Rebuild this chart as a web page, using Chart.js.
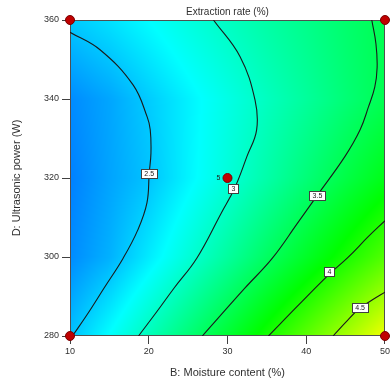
<!DOCTYPE html>
<html>
<head>
<meta charset="utf-8">
<script src="https://cdn.jsdelivr.net/npm/chart.js@4/dist/chart.umd.min.js"></script>
<style>
  html, body { margin: 0; padding: 0; background: #ffffff; }
  #wrap { width: 392px; height: 385px; }
</style>
</head>
<body>
<div id="wrap"><canvas id="c"></canvas></div>
<script>
// Response surface: extraction rate (%) over moisture content (B) and ultrasonic power (D)
const moisture = [10, 15, 20, 25, 30, 35, 40, 45, 50];
const power = [280, 300, 320, 340, 360];
const rateAt280 = [2.49, 2.78, 3.08, 3.38, 3.68, 3.99, 4.29, 4.60, 4.92];
const rateAt300 = [2.25, 2.42, 2.68, 2.94, 3.20, 3.47, 3.73, 3.99, 4.25];
const rateAt320 = [2.20, 2.36, 2.50, 2.72, 2.93, 3.15, 3.37, 3.59, 3.80];
const rateAt340 = [2.25, 2.37, 2.54, 2.71, 2.88, 3.05, 3.21, 3.38, 3.54];
const rateAt360 = [2.53, 2.64, 2.77, 2.91, 3.04, 3.17, 3.29, 3.42, 3.54];
const rateRows = [rateAt280, rateAt300, rateAt320, rateAt340, rateAt360];

// Contour levels and their traced paths [moisture, power]
const contourLevels = ['2.5', '3', '3.5', '4', '4.5'];
const contour25 = [[10, 356.9], [13.85, 352.4], [18.03, 343.5], [19.81, 335.4], [20.19, 332.2], [20.28, 326.3],
                   [20.06, 321.3], [19.77, 313.7], [18.6, 306.8], [16.75, 299.7], [14.35, 292.2], [12.14, 285.3], [10.3, 280]];
const contour30 = [[28.22, 360], [31.6, 350.7], [33.5, 339.7], [33.7, 332.2], [32.46, 325.4], [30.9, 317.4],
                   [29.2, 311.1], [26.1, 299.7], [23.2, 292.1], [21.04, 286.2], [18.7, 280]];
const contour35 = [[48.32, 360], [48.85, 354], [49.0, 348], [48.7, 343], [47.9, 338], [46.84, 332.2], [44.9, 325.4],
                   [41.4, 315.6], [38.87, 308.5], [35.7, 299.7], [32.2, 292.1], [26.8, 280]];
const contour40 = [[50, 309.2], [47.9, 305.2], [45.3, 299.9], [42.9, 295.6], [39.1, 288], [35.2, 280]];
const contour45 = [[50, 291.1], [48.36, 289.1], [46.7, 286.9], [44.94, 283.3], [43.41, 280]];
const contourPaths = [contour25, contour30, contour35, contour40, contour45];
const contourLabelAt = [[20.06, 321.2], [30.76, 317.4], [41.42, 315.5], [42.95, 296.3], [46.84, 287.2]];

// Design points (factorial corners and replicated centre point)
const designB = [10, 50, 10, 50, 30];
const designD = [360, 360, 280, 280, 320];
const designReps = ['', '', '', '', '5'];

// Axis ticks
const bTicks = [10, 20, 30, 40, 50];
const dTicks = [280, 300, 320, 340, 360];

const FONT = '"Liberation Sans", Arial, sans-serif';

// Colour ramp blue -> cyan -> green -> yellow -> red over the rate value
const ramp = [[1.63, [0, 0, 255]], [2.77, [0, 255, 255]], [3.9, [0, 255, 0]], [4.98, [255, 255, 0]], [6.1, [255, 0, 0]]];
function rampColour(v) {
  if (v <= ramp[0][0]) return ramp[0][1];
  for (let k = 1; k < ramp.length; k++) {
    if (v <= ramp[k][0]) {
      const t = (v - ramp[k - 1][0]) / (ramp[k][0] - ramp[k - 1][0]);
      const a = ramp[k - 1][1], b = ramp[k][1];
      return [a[0] + (b[0] - a[0]) * t, a[1] + (b[1] - a[1]) * t, a[2] + (b[2] - a[2]) * t];
    }
  }
  return ramp[ramp.length - 1][1];
}

function locate(arr, v) {
  let i = 0;
  while (i < arr.length - 2 && v > arr[i + 1]) i++;
  const t = (v - arr[i]) / (arr[i + 1] - arr[i]);
  return [i, Math.max(0, Math.min(1, t))];
}

function surfaceValue(b, d) {
  const [i, tx] = locate(moisture, b);
  const [j, ty] = locate(power, d);
  const r0 = rateRows[j], r1 = rateRows[j + 1];
  const v0 = r0[i] + (r0[i + 1] - r0[i]) * tx;
  const v1 = r1[i] + (r1[i + 1] - r1[i]) * tx;
  return v0 + (v1 - v0) * ty;
}

const surfacePlugin = {
  id: 'surface',
  beforeDatasetsDraw(chart) {
    const { ctx, chartArea: a, scales: { x, y } } = chart;
    const L = Math.round(a.left), T = Math.round(a.top);
    const w = Math.round(a.right) - L, h = Math.round(a.bottom) - T;
    const img = ctx.createImageData(w, h);
    for (let j = 0; j < h; j++) {
      const dv = y.getValueForPixel(T + j + 0.5);
      for (let i = 0; i < w; i++) {
        const bv = x.getValueForPixel(L + i + 0.5);
        const c = rampColour(surfaceValue(bv, dv));
        const p = (j * w + i) * 4;
        img.data[p] = c[0]; img.data[p + 1] = c[1]; img.data[p + 2] = c[2]; img.data[p + 3] = 255;
      }
    }
    ctx.putImageData(img, L, T);
    ctx.save();
    ctx.strokeStyle = '#505050';
    ctx.lineWidth = 1;
    ctx.strokeRect(L + 0.5, T + 0.5, w - 1, h - 1);
    ctx.restore();
  },
  afterDatasetsDraw(chart) {
    const { ctx, scales: { x, y } } = chart;
    ctx.save();
    ctx.font = '7px ' + FONT;
    ctx.textAlign = 'center';
    ctx.textBaseline = 'middle';
    contourLevels.forEach((lab, k) => {
      const px = x.getPixelForValue(contourLabelAt[k][0]);
      const py = y.getPixelForValue(contourLabelAt[k][1]);
      const tw = Math.round(ctx.measureText(lab).width + 6);
      const th = 9;
      const bx = Math.round(px - tw / 2) + 0.5, by = Math.round(py - th / 2) + 0.5;
      ctx.fillStyle = '#ffffff';
      ctx.fillRect(bx, by, tw, th);
      ctx.strokeStyle = '#404040';
      ctx.lineWidth = 1;
      ctx.strokeRect(bx, by, tw, th);
      ctx.fillStyle = '#202020';
      ctx.fillText(lab, px, py + 0.5);
    });
    ctx.textAlign = 'right';
    ctx.fillStyle = '#202020';
    designReps.forEach((lab, k) => {
      if (!lab) return;
      ctx.fillText(lab, x.getPixelForValue(designB[k]) - 7, y.getPixelForValue(designD[k]));
    });
    ctx.restore();
  }
};

const datasets = [{
  label: 'Design points',
  data: designB.map((b, k) => ({ x: b, y: designD[k] })),
  showLine: false,
  pointRadius: 4.5,
  pointBackgroundColor: '#c00000',
  pointBorderColor: '#7a0000',
  pointBorderWidth: 1,
  clip: false
}];
contourPaths.forEach((path, k) => {
  datasets.push({
    label: contourLevels[k],
    data: path.map(p => ({ x: p[0], y: p[1] })),
    showLine: true,
    pointRadius: 0,
    borderColor: '#1a1a1a',
    borderWidth: 1.1,
    tension: 0.4,
    fill: false
  });
});

new Chart(document.getElementById('c'), {
  type: 'scatter',
  data: { datasets },
  plugins: [surfacePlugin],
  options: {
    responsive: true,
    maintainAspectRatio: false,
    animation: false,
    devicePixelRatio: 1,
    layout: { padding: { left: 0, right: 7, top: 0, bottom: 0 } },
    plugins: {
      legend: { display: false },
      tooltip: { enabled: false },
      title: { display: false }
    },
    scales: {
      x: {
        type: 'linear',
        min: 10, max: 50,
        afterBuildTicks(s) { s.ticks = bTicks.map(v => ({ value: v })); },
        afterFit(s) { s.height = 49; },
        border: { display: false },
        grid: { drawOnChartArea: false, drawTicks: true, tickLength: 8, color: '#404040' },
        ticks: { color: '#303030', padding: 2, font: { family: FONT, size: 9 } },
        title: {
          display: true,
          text: 'B: Moisture content (%)',
          color: '#303030',
          font: { family: FONT, size: 11, lineHeight: 1.2 },
          padding: { top: 0, bottom: 5 }
        }
      },
      xTop: {
        type: 'linear',
        position: 'top',
        min: 10, max: 50,
        afterFit(s) { s.height = 20; },
        border: { display: false },
        grid: { display: false },
        ticks: { display: false },
        title: {
          display: true,
          text: 'Extraction rate (%)',
          color: '#303030',
          font: { family: FONT, size: 10, lineHeight: 1.2 },
          padding: { top: 6.5, bottom: 0 }
        }
      },
      y: {
        type: 'linear',
        min: 280, max: 360,
        afterBuildTicks(s) { s.ticks = dTicks.map(v => ({ value: v })); },
        afterFit(s) { s.width = 70; },
        border: { display: false },
        grid: { drawOnChartArea: false, drawTicks: true, tickLength: 8, color: '#404040' },
        ticks: { color: '#303030', padding: 3, font: { family: FONT, size: 9 } },
        title: {
          display: true,
          text: 'D: Ultrasonic power (W)',
          color: '#303030',
          font: { family: FONT, size: 11, lineHeight: 1.2 },
          padding: { top: 10, bottom: 0 }
        }
      }
    }
  }
});
</script>
</body>
</html>
